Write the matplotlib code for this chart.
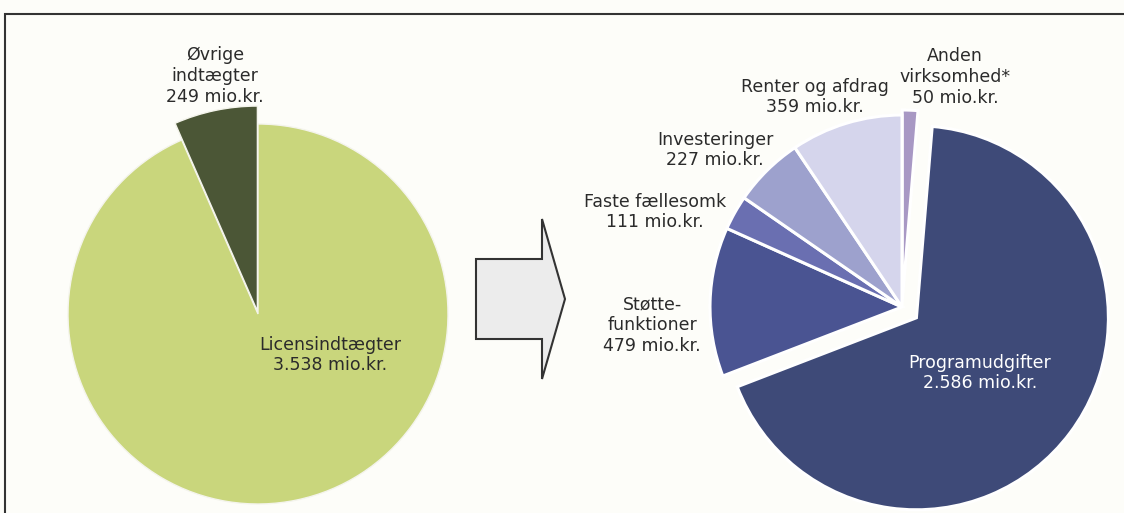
import matplotlib.pyplot as plt
import matplotlib.patches as mpatches

# indtægter (mio. kr.)
ind_labels = ['Øvrige\nindtægter\n249 mio.kr.', 'Licensindtægter\n3.538 mio.kr.']
ind_values = [249, 3538]
ind_colors = ['#4b5636', '#c9d67c']

# udgifter (mio. kr.), clockwise from 12 o'clock
ud_labels = ['Anden\nvirksomhed*\n50 mio.kr.', 'Programudgifter\n2.586 mio.kr.',
             'Støtte-\nfunktioner\n479 mio.kr.', 'Faste fællesomk\n111 mio.kr.',
             'Investeringer\n227 mio.kr.', 'Renter og afdrag\n359 mio.kr.']
ud_values = [50, 2586, 479, 111, 227, 359]
ud_colors = ['#a898c4', '#3e4a78', '#4a5492', '#6a6fb1', '#9da1cd', '#d5d5ec']

W, H = 1124, 513
fig = plt.figure(figsize=(W / 100, H / 100), dpi=100)
fig.patch.set_facecolor('#fdfdf9')
ax = fig.add_axes([0, 0, 1, 1])
ax.set_xlim(0, W)
ax.set_ylim(0, H)
ax.set_aspect('equal')
ax.axis('off')

def up(y):
    return H - y

# frame
ax.add_patch(mpatches.Rectangle((5, -20), W + 20, up(14) + 20, fill=False,
                                edgecolor='#333333', lw=1.5))

# left pie
wl, _ = ax.pie(ind_values, colors=ind_colors, startangle=90, counterclock=True,
               center=(258, up(314)), radius=190, explode=[3, 0],
               wedgeprops={'edgecolor': '#f4f4ec', 'linewidth': 1})
wl[0].set_radius(205)
wl[0].set_zorder(3)

# right pie
wr, _ = ax.pie(ud_values, colors=ud_colors, startangle=90, counterclock=False,
               center=(902, up(307)), radius=192, explode=[5, 18, 0, 0, 0, 0],
               wedgeprops={'edgecolor': 'white', 'linewidth': 2.2})

ax.set_xlim(0, W)
ax.set_ylim(0, H)

# arrow
ax.add_patch(mpatches.FancyArrow(476, up(299), 89, 0, width=80, head_width=160,
                                 head_length=23, length_includes_head=True,
                                 facecolor='#ececec', edgecolor='#333333', lw=1.5))

fs = 12.5
tk = dict(ha='center', va='center', fontsize=fs, linespacing=1.2, color='#2b2b2b')
ax.text(215, up(76), ind_labels[0], **tk)
ax.text(330, up(355), ind_labels[1], **tk)

pos = [(955, 77), (980, 373), (652, 325), (655, 212), (715, 150), (815, 97)]
for lab, (x, y) in zip(ud_labels, pos):
    c = 'white' if lab.startswith('Program') else '#2b2b2b'
    ax.text(x, up(y), lab, **{**tk, 'color': c})

fig.savefig('out.png', dpi=100, facecolor=fig.get_facecolor())
